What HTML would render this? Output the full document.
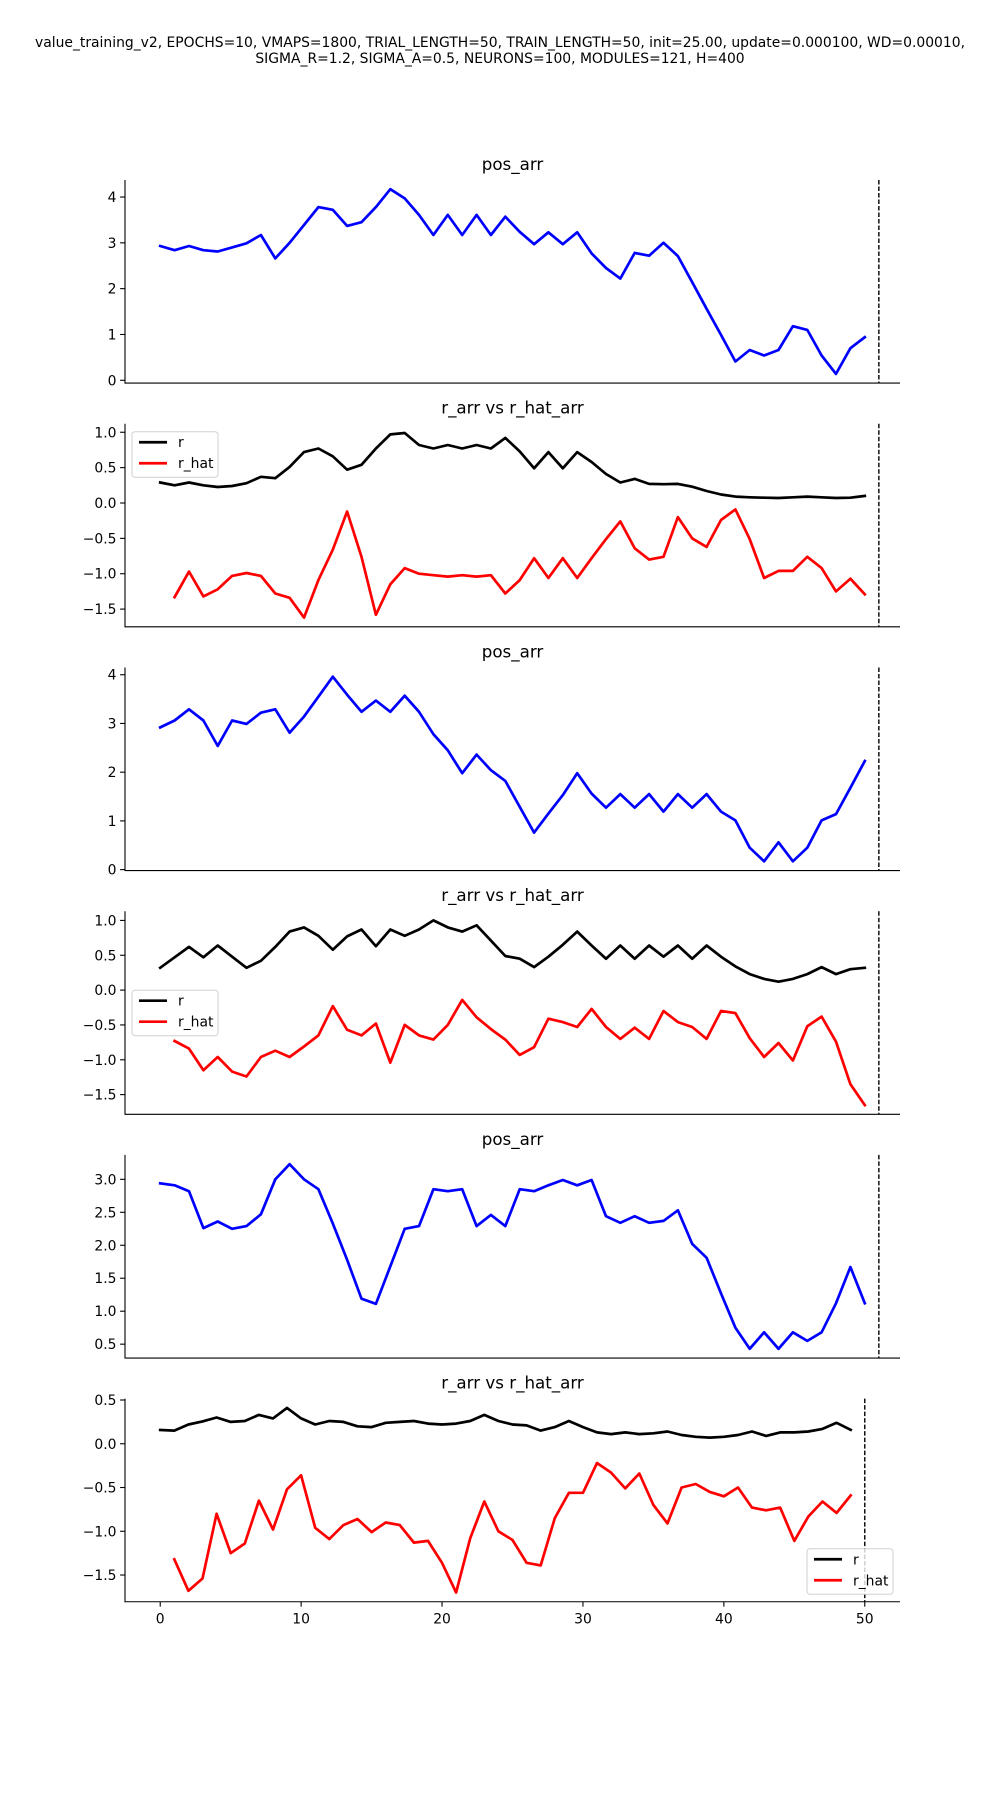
<!DOCTYPE html>
<html><head><meta charset="utf-8"><style>
html,body{margin:0;padding:0;background:#fff;}
svg{display:block;font-family:"DejaVu Sans","Liberation Sans",sans-serif;}
</style></head><body>
<svg id="fig" width="1000" height="1800" viewBox="0 0 1000 1800" xmlns="http://www.w3.org/2000/svg">
<rect width="1000" height="1800" fill="#fff"/>
<text x="500" y="47" font-size="13.9" text-anchor="middle">value_training_v2, EPOCHS=10, VMAPS=1800, TRIAL_LENGTH=50, TRAIN_LENGTH=50, init=25.00, update=0.000100, WD=0.00010,</text>
<text x="500" y="63" font-size="13.9" text-anchor="middle">SIGMA_R=1.2, SIGMA_A=0.5, NEURONS=100, MODULES=121, H=400</text>
</svg>
<script>
const pos1 = [2.93,2.84,2.93,2.84,2.81,2.90,2.99,3.17,2.66,3.0,3.39,3.78,3.72,3.37,3.45,3.78,4.17,3.97,3.61,3.17,3.61,3.17,3.61,3.17,3.57,3.24,2.97,3.23,2.97,3.23,2.77,2.45,2.22,2.78,2.72,3.0,2.71,2.14,1.56,0.99,0.41,0.66,0.54,0.66,1.18,1.10,0.54,0.14,0.70,0.94];
const r2 = [0.29,0.25,0.29,0.25,0.226,0.24,0.28,0.37,0.35,0.51,0.72,0.77,0.66,0.47,0.54,0.77,0.97,0.99,0.82,0.77,0.82,0.77,0.82,0.77,0.92,0.73,0.49,0.72,0.49,0.72,0.58,0.41,0.29,0.34,0.27,0.265,0.27,0.23,0.17,0.12,0.09,0.08,0.075,0.07,0.08,0.09,0.08,0.07,0.075,0.1];
const rhat2 = [null,-1.33,-0.97,-1.32,-1.22,-1.03,-0.99,-1.03,-1.28,-1.34,-1.62,-1.09,-0.66,-0.12,-0.76,-1.58,-1.15,-0.92,-1.0,-1.02,-1.04,-1.02,-1.04,-1.02,-1.28,-1.09,-0.78,-1.06,-0.78,-1.06,-0.78,-0.51,-0.26,-0.64,-0.80,-0.76,-0.20,-0.50,-0.62,-0.24,-0.09,-0.51,-1.06,-0.96,-0.96,-0.76,-0.92,-1.25,-1.07,-1.29];
const pos3 = [2.92,3.06,3.29,3.06,2.54,3.06,2.99,3.22,3.29,2.81,3.14,3.55,3.96,3.59,3.24,3.47,3.24,3.57,3.24,2.78,2.45,1.98,2.36,2.04,1.82,1.29,0.76,1.15,1.53,1.98,1.56,1.27,1.55,1.27,1.55,1.19,1.55,1.27,1.55,1.19,1.01,0.45,0.17,0.56,0.17,0.45,1.01,1.14,1.68,2.23];
const r4 = [0.32,0.47,0.62,0.47,0.64,0.48,0.32,0.42,0.62,0.84,0.90,0.78,0.58,0.77,0.87,0.63,0.87,0.78,0.87,1.0,0.90,0.84,0.93,0.71,0.49,0.45,0.33,0.48,0.65,0.84,0.64,0.45,0.64,0.45,0.64,0.48,0.64,0.45,0.64,0.48,0.34,0.23,0.16,0.12,0.16,0.23,0.33,0.23,0.30,0.32];
const rhat4 = [null,-0.73,-0.84,-1.15,-0.96,-1.17,-1.24,-0.96,-0.87,-0.96,-0.81,-0.65,-0.23,-0.57,-0.65,-0.48,-1.04,-0.50,-0.65,-0.71,-0.50,-0.14,-0.39,-0.56,-0.71,-0.93,-0.82,-0.41,-0.46,-0.53,-0.27,-0.53,-0.70,-0.54,-0.70,-0.30,-0.46,-0.53,-0.70,-0.30,-0.33,-0.69,-0.96,-0.76,-1.01,-0.52,-0.38,-0.74,-1.35,-1.65];
const pos5 = [2.94,2.91,2.82,2.26,2.36,2.25,2.29,2.47,3.0,3.23,3.0,2.85,2.33,1.78,1.19,1.11,1.68,2.25,2.29,2.85,2.82,2.85,2.29,2.46,2.29,2.85,2.82,2.91,2.99,2.91,2.99,2.44,2.34,2.44,2.34,2.37,2.53,2.02,1.81,1.27,0.75,0.43,0.68,0.43,0.68,0.55,0.68,1.12,1.67,1.12];
const r6 = [0.157,0.15,0.22,0.256,0.30,0.25,0.26,0.33,0.29,0.41,0.29,0.22,0.26,0.25,0.2,0.19,0.24,0.25,0.26,0.23,0.22,0.23,0.26,0.33,0.26,0.22,0.21,0.15,0.19,0.26,0.19,0.13,0.11,0.13,0.11,0.12,0.14,0.10,0.08,0.07,0.08,0.10,0.14,0.09,0.13,0.13,0.14,0.17,0.24,0.16];
const rhat6 = [null,-1.32,-1.68,-1.54,-0.80,-1.25,-1.14,-0.65,-0.98,-0.52,-0.36,-0.96,-1.09,-0.93,-0.86,-1.01,-0.90,-0.93,-1.13,-1.11,-1.36,-1.70,-1.08,-0.66,-1.0,-1.10,-1.36,-1.39,-0.85,-0.56,-0.56,-0.22,-0.33,-0.51,-0.34,-0.70,-0.91,-0.50,-0.46,-0.55,-0.60,-0.50,-0.73,-0.76,-0.73,-1.11,-0.83,-0.66,-0.79,-0.59];
const yTicks1 = [0,1,2,3,4];
const yTicks2 = [-1.5,-1.0,-0.5,0.0,0.5,1.0];
const yTicks3 = [0,1,2,3,4];
const yTicks4 = [-1.5,-1.0,-0.5,0.0,0.5,1.0];
const yTicks5 = [0.5,1.0,1.5,2.0,2.5,3.0];
const yTicks6 = [-1.5,-1.0,-0.5,0.0,0.5];
const xTicks = [0,10,20,30,40,50];
const titles = ["pos_arr","r_arr vs r_hat_arr","pos_arr","r_arr vs r_hat_arr","pos_arr","r_arr vs r_hat_arr"];

const NS = "http://www.w3.org/2000/svg";
const svg = document.getElementById('fig');
const L = 125, R = 900, XMIN = -2.5, XMAX = 52.5, H = 203.1;
function xs(v){ return L + (v - XMIN) / (XMAX - XMIN) * (R - L); }
function mk(tag, attrs, parent){
  const e = document.createElementNS(NS, tag);
  for (const k in attrs) e.setAttribute(k, attrs[k]);
  (parent || svg).appendChild(e);
  return e;
}
function fmt(v, dec){ const s = v.toFixed(dec); return s.replace('-', '\u2212'); }

const panels = [
  {series:[{d:pos1,c:'#0000ff',n:'pos-line'}], ticks:yTicks1, dec:0, lin:true, vx:51},
  {series:[{d:r2,c:'#000000',n:'r-line'},{d:rhat2,c:'#ff0000',n:'r-hat-line'}], ticks:yTicks2, dec:1, lin:true, vx:51, legend:'tl'},
  {series:[{d:pos3,c:'#0000ff',n:'pos-line'}], ticks:yTicks3, dec:0, lin:true, vx:51},
  {series:[{d:r4,c:'#000000',n:'r-line'},{d:rhat4,c:'#ff0000',n:'r-hat-line'}], ticks:yTicks4, dec:1, lin:true, vx:51, legend:'ml'},
  {series:[{d:pos5,c:'#0000ff',n:'pos-line'}], ticks:yTicks5, dec:1, lin:true, vx:51},
  {series:[{d:r6,c:'#000000',n:'r-line'},{d:rhat6,c:'#ff0000',n:'r-hat-line'}], ticks:yTicks6, dec:1, lin:false, vx:50, legend:'br'}
];

panels.forEach((p, i) => {
  const top = 180 + i * 243.73, bot = top + H;
  let mn = Infinity, mx = -Infinity;
  p.series.forEach(s => s.d.forEach(v => { if (v !== null) { mn = Math.min(mn, v); mx = Math.max(mx, v); } }));
  const pad = (mx - mn) * 0.05; const y0 = mn - pad, y1 = mx + pad;
  const ys = v => bot - (v - y0) / (y1 - y0) * H;
  const g = mk('g', {});
  
  
  const t = mk('text', {x: 512.5, y: top - 10, 'font-size': 16.7, 'text-anchor': 'middle'}, g);
  
  
  t.textContent = titles[i];
  p.ticks.forEach(tv => {
    const y = ys(tv);
    const tk = mk('line', {x1: L - 4.9, x2: L, y1: y, y2: y, stroke: '#000', 'stroke-width': 1.1}, g);
    
    
    const tl = mk('text', {x: L - 8.5, y: y + 5, 'font-size': 13.9, 'text-anchor': 'end'}, g);
    
    
    tl.textContent = fmt(tv, p.dec);
  });
  p.series.forEach(s => {
    const pts = [];
    s.d.forEach((v, k) => {
      if (v === null) return;
      const xv = p.lin ? k * 50 / 49 : k;
      pts.push(xs(xv).toFixed(1) + ',' + ys(v).toFixed(1));
    });
    const pl = mk('polyline', {points: pts.join(' '), fill: 'none', stroke: s.c, 'stroke-width': 2.7, 'stroke-linejoin': 'round', 'stroke-linecap': 'square'}, g);
    
    
  });
  const vl = mk('line', {x1: xs(p.vx), x2: xs(p.vx), y1: top, y2: bot, stroke: '#000', 'stroke-width': 1.4, 'stroke-dasharray': '4.5,2'}, g);
  
  
  const sl = mk('line', {x1: L, x2: L, y1: top, y2: bot + 0.5, stroke: '#000', 'stroke-width': 1.1}, g);
  
  
  const sb = mk('line', {x1: L, x2: R, y1: bot, y2: bot, stroke: '#000', 'stroke-width': 1.1}, g);
  
  
  if (i === 5) {
    xTicks.forEach(xv => {
      const x = xs(xv);
      const tk = mk('line', {x1: x, x2: x, y1: bot, y2: bot + 4.9, stroke: '#000', 'stroke-width': 1.1}, g);
      
      
      const tl = mk('text', {x: x, y: bot + 21.5, 'font-size': 13.9, 'text-anchor': 'middle'}, g);
      
      
      tl.textContent = String(xv);
    });
  }
  if (p.legend) {
    let lx, ly;
    if (p.legend === 'tl') { lx = 132; ly = top + 8; }
    else if (p.legend === 'ml') { lx = 132; ly = top + 79; }
    else { lx = 807; ly = bot - 53; }
    const lg = mk('g', {}, g);
    
    
    mk('rect', {x: lx, y: ly, width: 86, height: 45.5, rx: 3, fill: '#fff', 'fill-opacity': 0.8, stroke: '#d0d0d0', 'stroke-width': 1}, lg);
    [['r', '#000'], ['r_hat', '#f00']].forEach((e, k) => {
      const yy = ly + 10.5 + k * 21;
      const ent = mk('g', {}, lg);
      
      
      mk('line', {x1: lx + 7, x2: lx + 35, y1: yy, y2: yy, stroke: e[1], 'stroke-width': 2.7}, ent);
      const tx = mk('text', {x: lx + 46, y: yy + 5, 'font-size': 13.9}, ent);
      tx.textContent = e[0];
    });
  }
});
</script>
</body></html>
